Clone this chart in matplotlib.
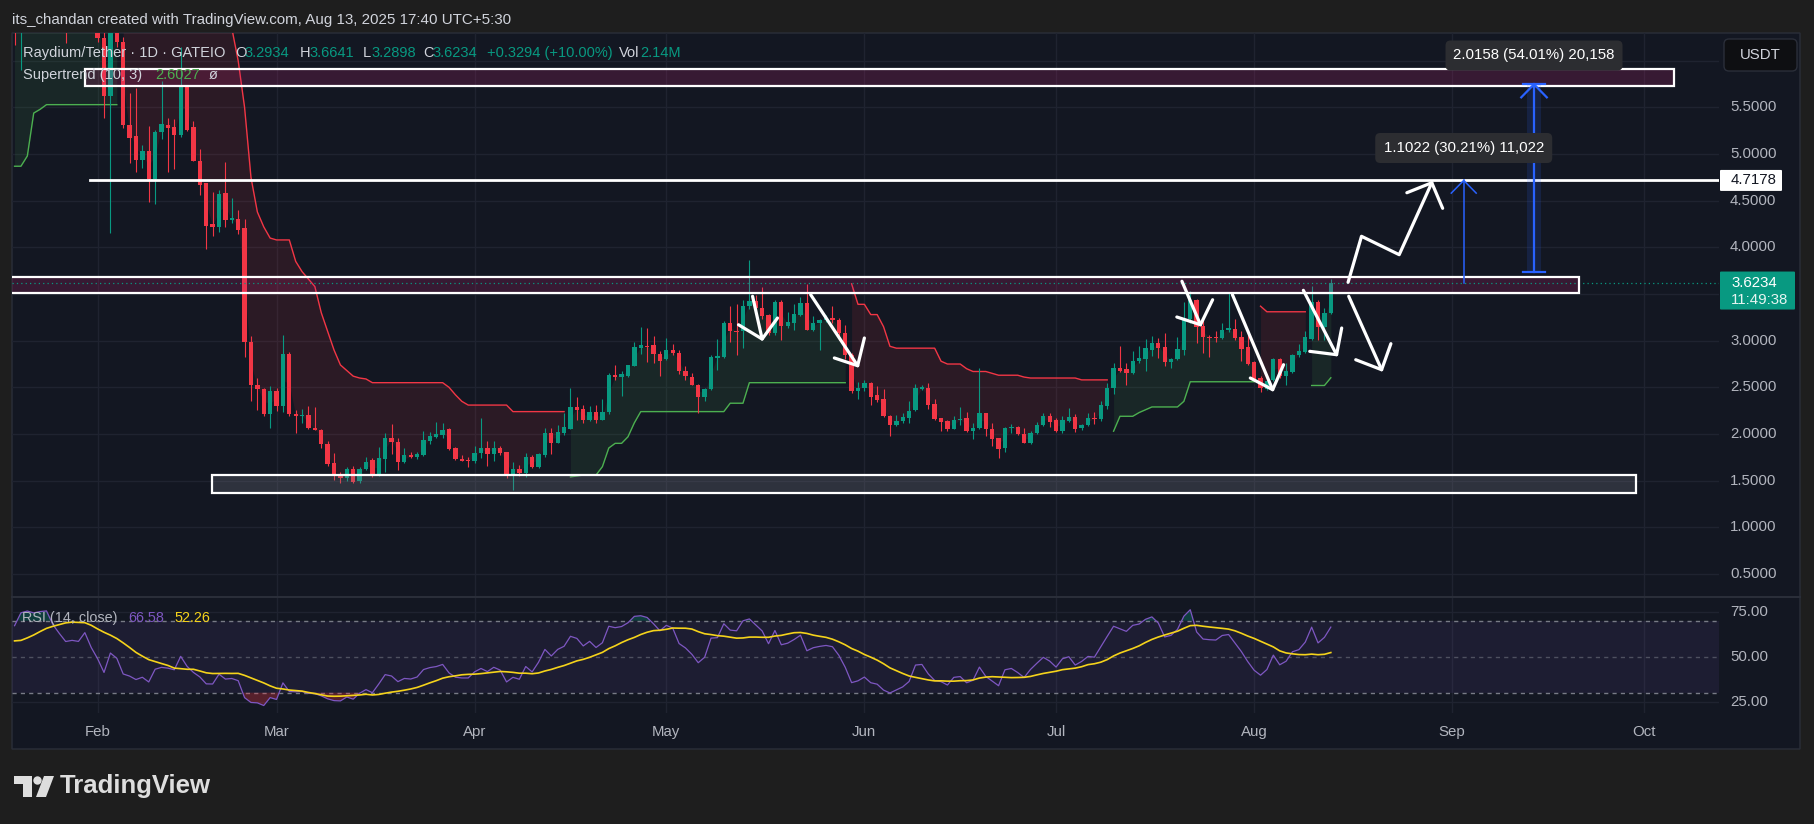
import numpy as np
import pandas as pd
import matplotlib
matplotlib.use("Agg")
import matplotlib.pyplot as plt
import matplotlib.dates as mdates
from matplotlib.patches import Rectangle, FancyBboxPatch, Polygon, Circle
from matplotlib.lines import Line2D
from matplotlib.transforms import IdentityTransform, blended_transform_factory

plt.rcParams['font.family'] = ['Liberation Sans', 'DejaVu Sans']

W, H = 1814, 824

# ---- candles (RAY/USDT, 1D, GATEIO) ----
dates = pd.date_range('2025-01-19', '2025-08-13', freq='D')

opens = [6.85, 6.40, 7.30, 7.45, 7.40, 7.50, 7.55, 7.20, 6.95, 6.70, 6.75, 6.72, 7.10, 6.65,
         6.24, 5.62, 6.45, 6.20, 5.31, 5.19, 4.94, 5.03, 4.73, 5.24,
         5.31, 5.29, 5.21, 5.74, 5.29, 4.93, 4.69, 4.25, 4.22, 4.58,
         4.29, 4.30, 4.21, 2.99, 2.53, 2.48, 2.21, 2.46, 2.30, 2.86,
         2.21, 2.19, 2.20, 2.06, 2.04, 1.89, 1.69, 1.56, 1.53, 1.62,
         1.50, 1.62, 1.72, 1.55, 1.73, 1.96, 1.91, 1.70, 1.77, 1.75,
         1.78, 1.93, 1.97, 1.99, 2.05, 1.85, 1.73, 1.72, 1.71, 1.80,
         1.85, 1.79, 1.85, 1.81, 1.56, 1.62, 1.58, 1.75, 1.65, 1.77,
         2.01, 1.90, 2.01, 2.05, 2.29, 2.27, 2.15, 2.24, 2.15, 2.24,
         2.63, 2.61, 2.62, 2.73, 2.92, 2.94, 2.95, 2.86, 2.80, 2.90,
         2.87, 2.68, 2.61, 2.53, 2.40, 2.48, 2.81, 2.83, 3.19, 3.10,
         3.10, 3.37, 3.43, 3.35, 3.28, 3.08, 3.41, 3.16, 3.19, 3.28,
         3.40, 3.12, 3.19, 3.22, 3.24, 3.22, 3.08, 2.85, 2.46, 2.49,
         2.55, 2.42, 2.37, 2.19, 2.10, 2.14, 2.17, 2.26, 2.48, 2.49,
         2.32, 2.17, 2.14, 2.05, 2.15, 2.17, 2.03, 2.06, 2.23, 2.05,
         1.96, 1.85, 2.06, 2.08, 2.00, 1.90, 2.01, 2.10, 2.19, 2.15,
         2.03, 2.14, 2.18, 2.06, 2.10, 2.17, 2.16, 2.30, 2.49, 2.71,
         2.70, 2.65, 2.78, 2.80, 2.90, 2.98, 2.93, 2.77, 2.80, 2.90,
         3.23, 3.44, 3.16, 3.04, 3.035, 3.03, 3.12, 3.13, 3.04, 2.93,
         2.77, 2.60, 2.48, 2.58, 2.80, 2.62, 2.66, 2.85, 2.88, 3.02,
         3.42, 3.15, 3.2934]

highs = [7.20, 7.60, 7.80, 7.70, 7.90, 7.95, 7.65, 7.35, 7.00, 6.95, 6.90, 7.20, 7.15, 6.75,
         6.35, 6.80, 6.60, 6.25, 5.65, 5.71, 5.10, 5.30, 5.26, 5.78,
         5.39, 5.38, 6.15, 5.74, 5.36, 5.06, 4.69, 4.59, 4.62, 4.92,
         4.53, 4.40, 4.30, 3.05, 2.60, 2.49, 2.51, 2.49, 3.06, 2.88,
         2.26, 2.27, 2.30, 2.29, 2.05, 1.93, 1.80, 1.59, 1.65, 1.66,
         1.65, 1.75, 1.74, 1.86, 2.01, 2.11, 1.96, 1.85, 1.81, 1.81,
         2.03, 2.02, 2.13, 2.12, 2.06, 1.86, 1.78, 1.75, 1.87, 2.17,
         1.92, 1.93, 1.87, 1.81, 1.70, 1.67, 1.80, 1.78, 1.80, 2.06,
         2.06, 2.10, 2.23, 2.49, 2.40, 2.31, 2.30, 2.31, 2.37, 2.65,
         2.74, 2.67, 2.74, 2.99, 3.15, 3.14, 3.05, 2.89, 3.03, 2.97,
         2.90, 2.73, 2.65, 2.54, 2.49, 2.85, 3.02, 3.21, 3.37, 3.39,
         3.44, 3.86, 3.49, 3.58, 3.29, 3.44, 3.44, 3.31, 3.39, 3.47,
         3.61, 3.26, 3.23, 3.28, 3.37, 3.24, 3.17, 2.87, 2.56, 2.58,
         2.56, 2.51, 2.48, 2.20, 2.20, 2.23, 2.35, 2.54, 2.52, 2.55,
         2.37, 2.17, 2.15, 2.19, 2.29, 2.24, 2.12, 2.71, 2.23, 2.12,
         1.96, 2.08, 2.11, 2.09, 2.06, 2.03, 2.13, 2.22, 2.22, 2.17,
         2.19, 2.28, 2.21, 2.11, 2.22, 2.24, 2.35, 2.55, 2.76, 2.94,
         2.76, 2.89, 2.94, 3.02, 3.05, 3.03, 3.08, 2.81, 3.04, 3.41,
         3.53, 3.45, 3.22, 3.06, 3.10, 3.19, 3.51, 3.23, 3.10, 3.07,
         2.78, 2.62, 2.58, 2.81, 2.81, 2.76, 2.86, 2.96, 3.10, 3.59,
         3.44, 3.35, 3.6641]

lows = [6.17, 5.90, 7.00, 7.10, 7.20, 7.30, 7.05, 6.80, 6.19, 6.45, 6.50, 6.65, 6.55, 6.20,
        5.39, 4.15, 6.15, 5.28, 4.90, 4.81, 4.85, 4.49, 4.47, 5.16,
        4.81, 4.84, 5.18, 5.25, 4.93, 4.56, 3.98, 4.12, 4.17, 4.22,
        4.26, 4.14, 2.83, 2.35, 2.26, 2.19, 2.06, 2.25, 2.24, 2.19,
        2.01, 2.12, 2.05, 2.04, 1.85, 1.66, 1.51, 1.47, 1.50, 1.48,
        1.48, 1.61, 1.54, 1.55, 1.59, 1.79, 1.61, 1.69, 1.74, 1.73,
        1.76, 1.89, 1.96, 1.96, 1.83, 1.72, 1.71, 1.65, 1.69, 1.74,
        1.66, 1.71, 1.77, 1.53, 1.40, 1.55, 1.54, 1.64, 1.64, 1.75,
        1.79, 1.90, 1.99, 2.05, 2.15, 2.12, 2.14, 2.12, 2.15, 2.21,
        2.58, 2.41, 2.61, 2.73, 2.86, 2.77, 2.76, 2.62, 2.79, 2.85,
        2.64, 2.58, 2.52, 2.22, 2.35, 2.47, 2.69, 2.81, 2.99, 2.85,
        2.92, 3.34, 3.33, 3.23, 3.06, 3.06, 3.01, 3.14, 3.12, 3.26,
        3.12, 3.10, 2.90, 3.20, 3.19, 3.01, 2.80, 2.44, 2.37, 2.46,
        2.31, 2.34, 2.18, 1.98, 2.09, 2.12, 2.12, 2.25, 2.47, 2.27,
        2.15, 2.03, 2.03, 2.05, 2.10, 2.02, 1.95, 2.05, 1.98, 1.87,
        1.74, 1.81, 2.01, 1.99, 1.90, 1.89, 2.00, 2.09, 2.08, 2.02,
        2.01, 2.13, 2.02, 2.04, 2.09, 2.11, 2.14, 2.27, 2.43, 2.66,
        2.52, 2.64, 2.76, 2.68, 2.84, 2.81, 2.73, 2.71, 2.79, 2.85,
        3.19, 2.98, 2.87, 2.83, 2.99, 3.02, 3.09, 3.01, 2.78, 2.74,
        2.58, 2.45, 2.47, 2.57, 2.60, 2.53, 2.65, 2.83, 2.87, 3.01,
        3.01, 3.01, 3.2898]

closes = [6.40, 7.30, 7.45, 7.40, 7.50, 7.55, 7.20, 6.95, 6.70, 6.75, 6.72, 7.10, 6.65, 6.24,
          5.62, 6.45, 6.20, 5.31, 5.17, 4.94, 5.03, 4.73, 5.24, 5.32,
          5.28, 5.20, 5.74, 5.26, 4.93, 4.67, 4.23, 4.22, 4.57, 4.29,
          4.31, 4.19, 2.99, 2.52, 2.48, 2.21, 2.46, 2.30, 2.86, 2.21,
          2.19, 2.20, 2.06, 2.04, 1.89, 1.68, 1.55, 1.53, 1.62, 1.49,
          1.62, 1.70, 1.55, 1.74, 1.96, 1.91, 1.70, 1.77, 1.75, 1.79,
          1.94, 1.98, 2.00, 2.04, 1.84, 1.73, 1.71, 1.71, 1.80, 1.85,
          1.79, 1.85, 1.80, 1.56, 1.62, 1.58, 1.75, 1.65, 1.79, 2.01,
          1.90, 2.02, 2.08, 2.29, 2.26, 2.15, 2.24, 2.15, 2.24, 2.63,
          2.61, 2.64, 2.74, 2.93, 2.95, 2.93, 2.86, 2.78, 2.90, 2.87,
          2.68, 2.62, 2.53, 2.40, 2.48, 2.83, 2.84, 3.19, 3.10, 3.09,
          3.37, 3.43, 3.35, 3.27, 3.08, 3.41, 3.16, 3.20, 3.29, 3.40,
          3.12, 3.19, 3.22, 3.24, 3.22, 3.08, 2.85, 2.46, 2.49, 2.55,
          2.40, 2.36, 2.19, 2.10, 2.14, 2.18, 2.25, 2.49, 2.50, 2.31,
          2.16, 2.13, 2.05, 2.15, 2.16, 2.03, 2.06, 2.23, 2.05, 1.95,
          1.84, 2.06, 2.08, 2.00, 1.90, 2.01, 2.10, 2.19, 2.13, 2.03,
          2.15, 2.18, 2.05, 2.10, 2.17, 2.16, 2.31, 2.49, 2.71, 2.68,
          2.65, 2.78, 2.81, 2.92, 2.98, 2.92, 2.77, 2.80, 2.91, 3.23,
          3.44, 3.15, 3.04, 3.03, 3.025, 3.12, 3.14, 3.03, 2.91, 2.75,
          2.59, 2.49, 2.57, 2.80, 2.62, 2.68, 2.85, 2.89, 3.04, 3.42,
          3.15, 3.30, 3.6234]

# Supertrend (10, 3) as plotted
supertrend = [4.87, 4.87, 4.98, 5.44, 5.48, 5.53, 5.53, 5.53, 5.53, 5.53, 5.53, 5.53, 5.53, 5.53,
              5.53, 5.53, 5.53,
              7.90, 7.60, 7.40, 7.30, 7.20, 7.05, 7.00, 6.98, 6.95, 6.95,
              6.95, 6.90, 6.80, 6.70, 6.62, 6.55, 6.50, 6.35, 6.00, 5.50,
              4.75, 4.38, 4.22, 4.10, 4.08, 4.08, 4.08, 3.85, 3.74, 3.66,
              3.58, 3.30, 3.10, 2.90, 2.74, 2.68, 2.62, 2.60, 2.59,
              2.55, 2.55, 2.55, 2.55, 2.55, 2.55, 2.55, 2.55, 2.55, 2.55, 2.55, 2.55,
              2.50, 2.42, 2.35,
              2.31, 2.31, 2.31, 2.31, 2.31, 2.31, 2.31,
              2.24, 2.24, 2.24, 2.24, 2.24, 2.24, 2.24, 2.24, 2.24,
              1.54, 1.55, 1.56, 1.56, 1.56, 1.65, 1.85, 1.90, 1.90, 1.97, 2.12,
              2.24, 2.24, 2.24, 2.24, 2.24, 2.24, 2.24, 2.24, 2.24, 2.24, 2.24, 2.24, 2.24, 2.24,
              2.33, 2.33, 2.33,
              2.55, 2.55, 2.55, 2.55, 2.55, 2.55, 2.55, 2.55, 2.55, 2.55, 2.55, 2.55, 2.55, 2.55,
              2.55, 2.55,
              3.61, 3.39, 3.39, 3.28, 3.28, 3.15, 2.94,
              2.92, 2.92, 2.92, 2.92, 2.92, 2.92, 2.92,
              2.78, 2.75, 2.75, 2.75, 2.70, 2.67, 2.67, 2.67, 2.65,
              2.63, 2.63, 2.63, 2.63, 2.61,
              2.60, 2.60, 2.60, 2.60, 2.60, 2.60, 2.60, 2.60,
              2.58, 2.58, 2.58, 2.58, 2.58,
              2.03, 2.19, 2.19, 2.19, 2.23, 2.26,
              2.29, 2.29, 2.29, 2.29, 2.29, 2.35,
              2.56, 2.56, 2.56, 2.56, 2.56, 2.56, 2.56, 2.56, 2.56, 2.56, 2.56,
              3.37, 3.31, 3.31, 3.31, 3.31, 3.31, 3.31, 3.31,
              2.52, 2.52, 2.52, 2.6027]

# closes from Dec 18 to Jan 18 (left of the window), only to warm up the RSI
warmup_closes = [4.55, 4.70, 4.60, 4.75, 4.70, 4.95, 5.10, 5.05, 4.85, 4.80,
                 4.95, 4.85, 4.75, 4.90, 5.05, 5.30, 5.45, 5.50, 5.40, 5.55,
                 5.10, 4.95, 4.80, 4.90, 4.95, 4.85, 4.70, 5.00, 5.35, 5.70,
                 6.60, 6.85]

price_labels = [5.5, 5.0, 4.5, 4.0, 3.0, 2.5, 2.0, 1.5, 1.0, 0.5]
price_grid = [0.5, 1.0, 1.5, 2.0, 2.5, 3.0, 3.5, 4.0, 4.5, 5.0, 5.5, 6.0]
rsi_labels = [75, 50, 25]

level_line = 4.7178
top_zone = (5.73, 5.91)
mid_zone = (3.514, 3.686)
low_zone = (1.364, 1.561)
last_price = 3.6234
target_1 = (3.6156, 4.7178)
target_2 = (3.7324, 5.7482)

# ---- colours ----
BG = '#131722'
GRID = '#1f2330'
TXT = '#b2b5be'
LIGHT = '#d1d4dc'
UP = '#089981'
DOWN = '#f23645'
ST_UP = '#4caf50'
ST_DOWN = '#f23645'
BLUE = '#2962ff'

o = np.array(opens); h = np.array(highs); l = np.array(lows); c = np.array(closes)
st = np.array(supertrend)
x = mdates.date2num(dates)
t0 = mdates.date2num(pd.Timestamp('2025-02-01'))

# RSI(14) with Wilder smoothing and its SMA(14)
allc = np.array(warmup_closes + closes)
delta = np.diff(allc)
gain = np.clip(delta, 0, None)
loss = np.clip(-delta, 0, None)


def rma(v, n):
    out = np.full(len(v), np.nan)
    out[n - 1] = v[:n].mean()
    for i in range(n, len(v)):
        out[i] = (out[i - 1] * (n - 1) + v[i]) / n
    return out


ag, al = rma(gain, 14), rma(loss, 14)
rsi_all = 100 - 100 / (1 + ag / al)
rsi_ma_all = pd.Series(rsi_all).rolling(14).mean().values
rsi = rsi_all[-len(closes):]
rsi_ma = rsi_ma_all[-len(closes):]

# ---- figure ----
fig = plt.figure(figsize=(W / 100, H / 100), dpi=100)
fig.patch.set_facecolor('#1e1e1e')
PX = IdentityTransform()


def ptext(xp, yp, s, **kw):
    kw.setdefault('va', 'center')
    kw.setdefault('zorder', 12)
    fig.text(xp, H - yp, s, transform=PX, **kw)


def pbox(x0, y0, x1, y1, r=0, **kw):
    kw.setdefault('zorder', 10)
    fig.add_artist(FancyBboxPatch((x0, H - y1), x1 - x0, y1 - y0,
                                  boxstyle=f'round,pad=0,rounding_size={r}',
                                  transform=PX, **kw))


pbox(12, 33, 1800, 749, fc=BG, ec='#2a2e39', lw=1, zorder=-5)

ax = fig.add_axes([12 / W, 1 - 597 / H, 1707 / W, 564 / H])
ax_rsi = fig.add_axes([12 / W, 1 - 713 / H, 1707 / W, 116 / H], sharex=ax)
for a in (ax, ax_rsi):
    a.set_facecolor('none')
    for s in a.spines.values():
        s.set_visible(False)
    a.tick_params(left=False, bottom=False, labelleft=False, labelbottom=False)

ax.set_xlim(t0 - 13.40, t0 + 253.75)
ax.set_ylim(0.253, 6.298)
ax_rsi.set_ylim(18.72, 83.17)
ax.set_yticks([]); ax_rsi.set_yticks([])

months = pd.date_range('2025-02-01', '2025-10-01', freq='MS')
for m in mdates.date2num(months):
    ax.axvline(m, color=GRID, lw=1, zorder=0)
    ax_rsi.axvline(m, color=GRID, lw=1, zorder=0)
ax.set_xticks([])
for p in price_grid:
    ax.axhline(p, color=GRID, lw=1, zorder=0)

# supertrend fills + lines
mid = (o + c) / 2
up = c > st
start = 0
for i in range(1, len(c) + 1):
    if i == len(c) or up[i] != up[start]:
        sl = slice(start, i)
        col = ST_UP if up[start] else ST_DOWN
        ax.fill_between(x[sl], st[sl], mid[sl], color=col, alpha=0.11, lw=0, zorder=1)
        ax.plot(x[sl], st[sl], color=col, lw=1, zorder=2)
        start = i

# candles
cols = np.where(c >= o, UP, DOWN)
ax.vlines(x, l, h, colors=cols, lw=0.8, zorder=3)
body_h = np.maximum(np.abs(c - o), 0.012)
ax.bar(x, body_h, 0.68, bottom=np.minimum(o, c), color=cols, lw=0, zorder=3)

# zones and levels
ax.add_patch(Rectangle((t0 - 2.0, top_zone[0]), 248.7, top_zone[1] - top_zone[0],
                       fc='#c82878', alpha=0.2, ec='none', zorder=4))
ax.add_patch(Rectangle((t0 - 2.0, top_zone[0]), 248.7, top_zone[1] - top_zone[0],
                       fc='none', ec='white', lw=1.6, zorder=5))
ax.add_patch(Rectangle((t0 - 30, mid_zone[0]), 261.8, mid_zone[1] - mid_zone[0],
                       fc='#c82878', alpha=0.2, ec='none', zorder=4))
ax.add_patch(Rectangle((t0 - 30, mid_zone[0]), 261.8, mid_zone[1] - mid_zone[0],
                       fc='none', ec='white', lw=1.6, zorder=5))
ax.add_patch(Rectangle((t0 + 17.9, low_zone[0]), 222.9, low_zone[1] - low_zone[0],
                       fc='#787b86', alpha=0.27, ec='none', zorder=4))
ax.add_patch(Rectangle((t0 + 17.9, low_zone[0]), 222.9, low_zone[1] - low_zone[0],
                       fc='none', ec='white', lw=1.6, zorder=5))
ax.plot([t0 - 1.2, t0 + 260], [level_line, level_line], color='white', lw=2, zorder=5)
ax.axhline(last_price, color=UP, lw=0.9, ls=(0, (1, 2.5)), zorder=4)

# hand-drawn arrows (days after Feb 1, price)
arrows = [
    [(102.5, 3.476), (104.0, 3.018)], [(100.3, 3.171), (104.0, 3.018), (106.4, 3.243)],
    [(111.6, 3.493), (118.95, 2.732)], [(115.3, 2.815), (118.95, 2.732), (120.0, 3.029)],
    [(169.7, 3.637), (172.6, 3.171)], [(168.9, 3.254), (172.6, 3.171), (174.5, 3.439)],
    [(177.6, 3.493), (183.9, 2.475)], [(180.4, 2.600), (183.9, 2.475), (185.6, 2.743)],
    [(188.7, 3.540), (193.9, 2.850)], [(189.7, 2.886), (193.9, 2.850), (194.7, 3.136)],
    [(195.7, 3.626), (197.8, 4.119), (203.7, 3.922), (208.8, 4.693)],
    [(204.9, 4.586), (208.8, 4.693), (210.5, 4.419)],
    [(195.8, 3.476), (200.95, 2.689)], [(196.9, 2.796), (200.95, 2.689), (202.4, 2.968)],
]
for pts in arrows:
    ax.plot([t0 + p[0] for p in pts], [p[1] for p in pts], color='white', lw=2.3,
            solid_capstyle='round', solid_joinstyle='round', zorder=6)

# price range tools
xa = t0 + 213.8
ax.plot([xa, xa], target_1, color=BLUE, lw=1.1, zorder=6)
ax.plot([xa - 1.95, xa, xa + 1.95], [target_1[1] - 0.136, target_1[1], target_1[1] - 0.136],
        color=BLUE, lw=1.1, zorder=6)
xb = t0 + 224.8
ax.add_patch(Rectangle((xb - 1.1, target_2[0]), 2.2, target_2[1] - target_2[0],
                       fc=BLUE, alpha=0.15, ec='none', zorder=5))
ax.plot([xb, xb], target_2, color=BLUE, lw=1.6, zorder=6)
for yv in target_2:
    ax.plot([xb - 1.7, xb + 1.7], [yv, yv], color=BLUE, lw=1.6, zorder=6)
ax.plot([xb - 2.0, xb, xb + 2.0], [target_2[1] - 0.14, target_2[1], target_2[1] - 0.14],
        color=BLUE, lw=1.6, zorder=6)

# RSI pane
ax_rsi.axhspan(30, 70, color='#7e57c2', alpha=0.1, lw=0, zorder=0)
for v in (75, 25):
    ax_rsi.axhline(v, color=GRID, lw=1, zorder=0)
ax_rsi.axhline(70, color='#787b86', lw=1, ls=(0, (3, 3)), zorder=1)
ax_rsi.axhline(30, color='#787b86', lw=1, ls=(0, (3, 3)), zorder=1)
ax_rsi.axhline(50, color='#787b86', lw=1, ls=(0, (3, 3)), alpha=0.55, zorder=1)
ax_rsi.fill_between(x, rsi, 70, where=rsi > 70, interpolate=True, color=UP, alpha=0.3, lw=0)
ax_rsi.fill_between(x, rsi, 30, where=rsi < 30, interpolate=True, color=DOWN, alpha=0.3, lw=0)
ax_rsi.plot(x, rsi, color='#7e57c2', lw=0.9, zorder=3)
ax_rsi.plot(x, rsi_ma, color='#f5d31b', lw=1.2, zorder=4)

# month labels
bt = blended_transform_factory(ax_rsi.transData, PX)
for m in months:
    ax_rsi.text(mdates.date2num(m), H - 732, m.strftime('%b'), transform=bt, ha='center',
                va='center', color=TXT, fontsize=10.8, clip_on=False)

fig.canvas.draw()


def ypix(a, v):
    return H - a.transData.transform((t0, v))[1]


def xpix(xv):
    return ax.transData.transform((xv, 1))[0]


for p in price_labels:
    ptext(1730, ypix(ax, p), f'{p:.4f}', color=TXT, fontsize=10.8)
for v in rsi_labels:
    ptext(1730, ypix(ax_rsi, v), f'{v:.2f}', color=TXT, fontsize=10.8)

# axis tags
yl = ypix(ax, level_line)
pbox(1720, yl - 10.5, 1782, yl + 10.5, r=1, fc='white', ec='none')
ptext(1731, yl, f'{level_line:.4f}', color=BG, fontsize=10.8)
yc = ypix(ax, last_price)
pbox(1720, yc - 11, 1795, yc + 27, r=1, fc=UP, ec='none')
ptext(1731, yc, f'{last_price:.4f}', color='white', fontsize=10.8)
ptext(1731, yc + 17, '11:49:38', color='#e6f4f1', fontsize=10.8)
pbox(1724, 39, 1797, 71, r=5, fc='#0e0f12', ec='#2a2e39', lw=1)
ptext(1760.5, 55, 'USDT', color=LIGHT, fontsize=10.8, ha='center')

# range tool labels
for xv, yy, s in [(xa, 148, '1.1022 (30.21%) 11,022'), (xb, 55.5, '2.0158 (54.01%) 20,158')]:
    xp = xpix(xv)
    pbox(xp - 88.5, yy - 15, xp + 88.5, yy + 15, r=5, fc='#2c2d31', ec='none')
    ptext(xp, yy, s, color='white', fontsize=10.8, ha='center')

# pane separator
fig.add_artist(Line2D([12, 1800], [H - 597, H - 597], transform=PX, color='#2a2e39', lw=1.5, zorder=9))

# header and legends
ptext(12, 20, 'its_chandan created with TradingView.com, Aug 13, 2025 17:40 UTC+5:30',
      color=LIGHT, fontsize=10.9)
legend = [(23, 'Raydium/Tether · 1D · GATEIO', LIGHT), (235, 'O', LIGHT), (244.5, '3.2934', UP),
          (300, 'H', LIGHT), (309.5, '3.6641', UP), (363, 'L', LIGHT), (371, '3.2898', UP),
          (423, 'C', LIGHT), (432, '3.6234', UP), (487, '+0.3294 (+10.00%)', UP),
          (619, 'Vol', LIGHT), (640, '2.14M', UP)]
for xp, s, col in legend:
    ptext(xp, 53, s, color=col, fontsize=10.5)
ptext(23, 75, 'Supertrend (10, 3)', color=LIGHT, fontsize=10.5)
ptext(155, 75, '2.6027', color=ST_UP, fontsize=10.5)
ptext(209, 75, 'ø', color=LIGHT, fontsize=10.5)
ptext(22, 618, 'RSI (14, close)', color=TXT, fontsize=10.4)
ptext(128, 618, '66.58', color='#7e57c2', fontsize=10.4)
ptext(174, 618, '52.26', color='#f5d31b', fontsize=10.4)

# TradingView logo
LOGO = '#dedede'
fig.add_artist(Polygon([(14, H - 776), (32, H - 776), (32, H - 797), (23, H - 797),
                        (23, H - 784), (14, H - 784)], closed=True, transform=PX,
                       fc=LOGO, ec='none', zorder=12))
fig.add_artist(Circle((37.5, H - 780.5), 4.2, transform=PX, fc=LOGO, ec='none', zorder=12))
fig.add_artist(Polygon([(44, H - 776), (54, H - 776), (46, H - 797), (36, H - 797)],
                       closed=True, transform=PX, fc=LOGO, ec='none', zorder=12))
ptext(60, 786, 'TradingView', color=LOGO, fontsize=18.5, fontweight='bold')

fig.savefig('out.png', dpi=100, facecolor=fig.get_facecolor())
